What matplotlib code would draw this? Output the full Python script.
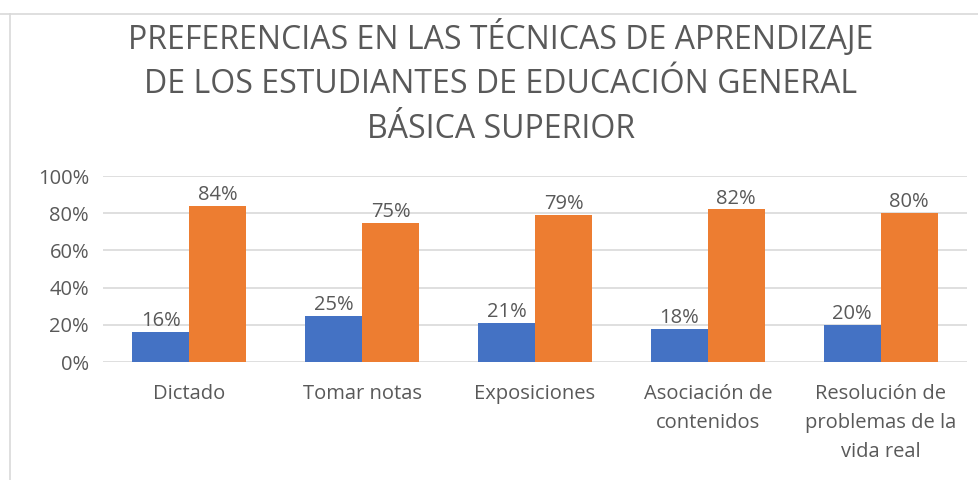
import numpy as np
import matplotlib.pyplot as plt
from matplotlib.lines import Line2D

categories = ["Dictado", "Tomar notas", "Exposiciones", "Asociación de\ncontenidos",
              "Resolución de\nproblemas de la\nvida real"]
serie_1 = [16, 25, 21, 18, 20]
serie_2 = [84, 75, 79, 82, 80]
yticks = [0, 20, 40, 60, 80, 100]
title = ("PREFERENCIAS EN LAS TÉCNICAS DE APRENDIZAJE\n"
         "DE LOS ESTUDIANTES DE EDUCACIÓN GENERAL\n"
         "BÁSICA SUPERIOR")

plt.rcParams['font.family'] = ['Open Sans', 'DejaVu Sans']
grey = "#595959"

fig = plt.figure(figsize=(9.79, 4.80), dpi=100)
ax = fig.add_axes([103/979, 1-362/480, 864/979, 186/480])

x = np.arange(len(categories))
w = 0.33
b1 = ax.bar(x - w/2, serie_1, w, color="#4472C4", zorder=3)
b2 = ax.bar(x + w/2, serie_2, w, color="#ED7D31", zorder=3)
for bars in (b1, b2):
    for r in bars:
        ax.text(r.get_x() + r.get_width()/2, r.get_height() + 0.5, "%d%%" % r.get_height(),
                ha="center", va="bottom", fontsize=14.5, color=grey)

ax.set_xlim(-0.5, len(categories) - 0.5)
ax.set_ylim(0, 100)
ax.set_yticks(yticks)
ax.set_yticklabels(["%d%%" % v for v in yticks])
ax.set_xticks(x)
ax.set_xticklabels(categories, linespacing=1.6)
ax.tick_params(axis="both", length=0, labelsize=14.5, labelcolor=grey)
ax.tick_params(axis="y", pad=10)
ax.tick_params(axis="x", pad=16)
ax.grid(axis="y", color="#d9d9d9", linewidth=1.2, zorder=0)
for s in ax.spines.values():
    s.set_visible(False)

fig.text(501/979, 1 - 20/480, title, ha="center", va="top", fontsize=23, color=grey,
         linespacing=1.45)

# marco del grafico
fig.add_artist(Line2D([10/979, 10/979], [0, 1 - 14/480], color="#d9d9d9", lw=1.2))
fig.add_artist(Line2D([0, 1], [1 - 14/480, 1 - 14/480], color="#d9d9d9", lw=1.2))

fig.savefig("out.png", dpi=100)
